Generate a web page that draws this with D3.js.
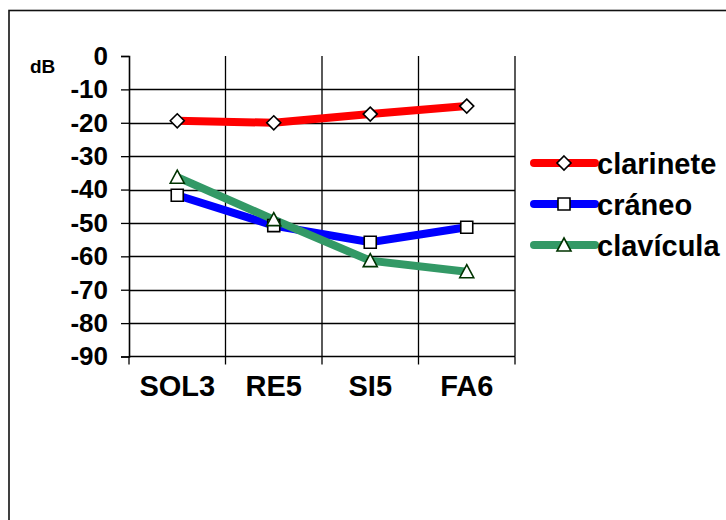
<!DOCTYPE html>
<html>
<head>
<meta charset="utf-8">
<script src="https://cdn.jsdelivr.net/npm/d3@7"></script>
<style>
  html, body { margin: 0; padding: 0; background: #fff; }
  svg { display: block; font-family: "Liberation Sans", Arial, sans-serif; }
</style>
</head>
<body>
<svg id="chart" width="726" height="520"></svg>
<script>
// Notes and levels in dB
const categories = ["SOL3", "RE5", "SI5", "FA6"];
const clarinete = [-19.4, -20.0, -17.4, -15.0];
const craneo = [-41.7, -50.8, -55.8, -51.3];
const clavicula = [-36.3, -49.0, -61.3, -64.6];
const yTicks = [0, -10, -20, -30, -40, -50, -60, -70, -80, -90];

const series = [
  { name: "clarinete", values: clarinete, color: "#ff0000", marker: "diamond", mstroke: "#000" },
  { name: "cráneo", values: craneo, color: "#0000ff", marker: "square", mstroke: "#000" },
  { name: "clavícula", values: clavicula, color: "#339966", marker: "triangle", mstroke: "#003300" }
];

const svg = d3.select("#chart");
const plot = { left: 129, right: 515, top: 56, bottom: 356.5 };

// outer frame
svg.append("rect")
  .attr("x", 9).attr("y", 10.5)
  .attr("width", 800).attr("height", 600)
  .attr("fill", "none").attr("stroke", "#111").attr("stroke-width", 1.6);

const x = d3.scaleBand().domain(categories).range([plot.left, plot.right]);
const y = d3.scaleLinear().domain([-90, 0]).range([plot.bottom, plot.top]);

// horizontal gridlines
svg.append("g").selectAll("line")
  .data(yTicks.filter(v => v !== 0 && v !== -90))
  .join("line")
  .attr("x1", plot.left).attr("x2", plot.right)
  .attr("y1", d => Math.round(y(d)) + 0.5).attr("y2", d => Math.round(y(d)) + 0.5)
  .attr("stroke", "#000").attr("stroke-width", 1.3);

// vertical gridlines at category boundaries
svg.append("g").selectAll("line")
  .data(categories.slice(1).concat(["end"]))
  .join("line")
  .attr("x1", d => d === "end" ? plot.right : x(d))
  .attr("x2", d => d === "end" ? plot.right : x(d))
  .attr("y1", plot.top).attr("y2", plot.bottom)
  .attr("stroke", "#000").attr("stroke-width", 1.3);

// y axis (plain hyphen for negative values)
const yAxis = svg.append("g")
  .attr("transform", `translate(${plot.left},0)`)
  .call(d3.axisLeft(y).tickValues(yTicks).tickSize(8).tickPadding(13).tickFormat(d => String(d)));
yAxis.select(".domain").attr("stroke", "#000").attr("stroke-width", 1.6);
yAxis.selectAll(".tick line").attr("stroke", "#000").attr("stroke-width", 1.3);
yAxis.selectAll(".tick text")
  .attr("fill", "#000")
  .style("font-size", "26px").style("font-weight", "bold")
  .style("font-family", "'Liberation Sans', Arial, sans-serif");

// x axis with ticks at band boundaries
const xAxis = svg.append("g")
  .attr("transform", `translate(0,${plot.bottom})`);
xAxis.append("line")
  .attr("x1", plot.left).attr("x2", plot.right)
  .attr("stroke", "#000").attr("stroke-width", 1.6);
xAxis.selectAll("line.tk")
  .data(categories.concat(["end"]))
  .join("line").attr("class", "tk")
  .attr("x1", d => d === "end" ? plot.right : x(d))
  .attr("x2", d => d === "end" ? plot.right : x(d))
  .attr("y1", 0).attr("y2", 8)
  .attr("stroke", "#000").attr("stroke-width", 1.3);
xAxis.selectAll("text")
  .data(categories)
  .join("text")
  .attr("x", d => x(d) + x.bandwidth() / 2)
  .attr("y", 39)
  .attr("text-anchor", "middle")
  .style("font-size", "29px").style("font-weight", "bold")
  .text(d => d);

// axis unit
svg.append("text")
  .attr("x", 30).attr("y", 73)
  .style("font-size", "19px").style("font-weight", "bold")
  .text("dB");

// marker shapes
function markerPath(type) {
  if (type === "diamond") return "M0,-7L7,0L0,7L-7,0Z";
  if (type === "square") return "M-6,-6H6V6H-6Z";
  return "M0,-7L7,6H-7Z";
}

const line = d3.line()
  .x((d, i) => x(categories[i]) + x.bandwidth() / 2)
  .y(d => y(d));

series.forEach(s => {
  svg.append("path")
    .datum(s.values)
    .attr("d", line)
    .attr("fill", "none")
    .attr("stroke", s.color)
    .attr("stroke-width", 8);
});

series.forEach(s => {
  svg.append("g").selectAll("path")
    .data(s.values)
    .join("path")
    .attr("transform", (d, i) => `translate(${x(categories[i]) + x.bandwidth() / 2},${y(d)})`)
    .attr("d", markerPath(s.marker))
    .attr("fill", "#fff")
    .attr("stroke", s.mstroke)
    .attr("stroke-width", 1.6);
});

// legend
const legend = svg.append("g");
const legendRows = legend.selectAll("g")
  .data(series)
  .join("g")
  .attr("transform", (d, i) => `translate(534,${163 + i * 41})`);
legendRows.append("line")
  .attr("x1", 0).attr("x2", 61)
  .attr("stroke", d => d.color).attr("stroke-width", 8)
  .attr("stroke-linecap", "round");
legendRows.append("path")
  .attr("transform", "translate(30,0)")
  .attr("d", d => markerPath(d.marker))
  .attr("fill", "#fff")
  .attr("stroke", d => d.mstroke)
  .attr("stroke-width", 1.6);
legendRows.append("text")
  .attr("x", 63).attr("y", 11)
  .style("font-size", "29px").style("font-weight", "bold")
  .text(d => d.name);
</script>
</body>
</html>
